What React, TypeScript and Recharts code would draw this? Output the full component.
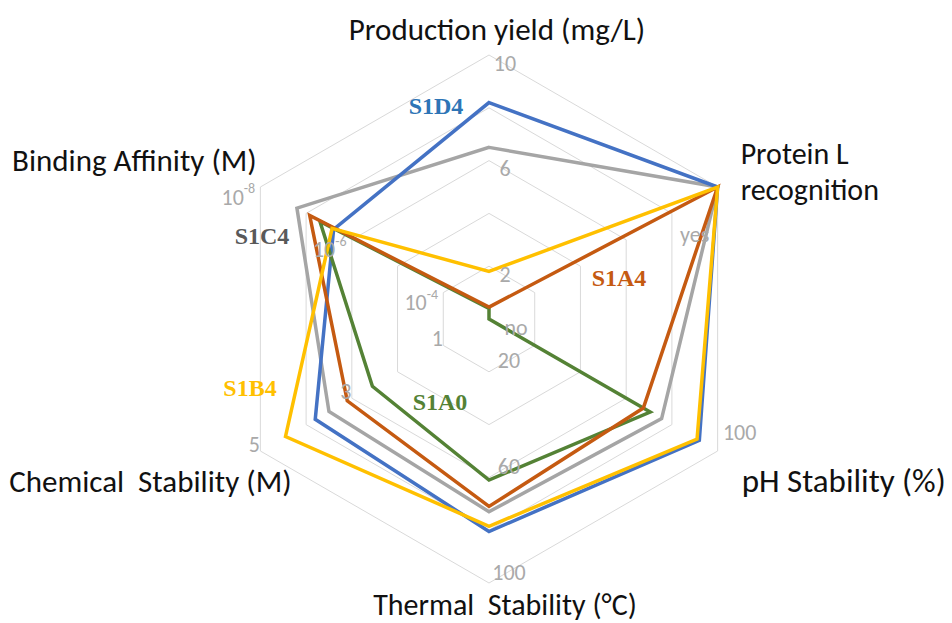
import React from "react";
import { Customized, PolarAngleAxis, PolarGrid, PolarRadiusAxis, Radar, RadarChart } from "recharts";

const axisNames = [
  "Production yield (mg/L)",
  "Protein L recognition",
  "pH Stability (%)",
  "Thermal  Stability (°C)",
  "Chemical  Stability (M)",
  "Binding Affinity (M)",
];

// raw values in axis order: yield (mg/L), Protein L (1 = yes, 0 = no), pH (%), thermal (°C), chemical (M), Kd (M)
const S1D4 = [8.2, 1, 92, 80.5, 3.8, 4.0e-7];
const S1C4 = [6.5, 1, 75.5, 73, 3.5, 6.3e-8];
const S1A4 = [0.45, 1, 67.5, 71, 3.1, 1.2e-7];
const S1B4 = [1.8, 1, 91, 78.5, 4.45, 3.7e-7];
const S1A0 = [0.4, 0, 70.5, 61, 2.55, 2.0e-7];

// scale labels per axis
const yieldTicks = [2, 6, 10];
const proteinTicks = [0, 1];
const phTicks = [100];
const thermalTicks = [20, 60, 100];
const chemicalTicks = [1, 3, 5];
const affinityTicks = [1e-4, 1e-6, 1e-8];

// each axis has its own scale, mapped onto 0..1 of the radius
const toUnit = [
  (v: number) => v / 10,
  (v: number) => v,
  (v: number) => v / 100,
  (v: number) => v / 100,
  (v: number) => v / 5,
  (v: number) => (-Math.log10(v) - 3) / 5,
];

const series = [
  { name: "S1C4", values: S1C4, color: "#A5A5A5", label: "#595959" },
  { name: "S1D4", values: S1D4, color: "#4472C4", label: "#2E75B6" },
  { name: "S1A0", values: S1A0, color: "#548235", label: "#548235" },
  { name: "S1A4", values: S1A4, color: "#C55A11", label: "#C55A11" },
  { name: "S1B4", values: S1B4, color: "#FFC000", label: "#FFC000" },
];

const data = axisNames.map((axis, i) => {
  const row: Record<string, number | string> = { axis };
  series.forEach((s) => {
    row[s.name] = toUnit[i](s.values[i]);
  });
  return row;
});

const CX = 489;
const CY = 319;
const R = 264;
const rings = [0.2, 0.4, 0.6, 0.8, 1].map((f) => f * R);

const labelFont = "Carlito, Lato, 'Open Sans', sans-serif";
const tickColor = "#A9A9A9";

// placement of the axis titles, relative to the outer vertex of each axis
const titleLayout = [
  { dx: 8, dy: -15, anchor: "middle", size: 31 },
  { dx: 23, dy: -23, anchor: "start", size: 30 },
  { dx: 24, dy: 41, anchor: "start", size: 33 },
  { dx: 16, dy: 32, anchor: "middle", size: 30 },
  { dx: -110, dy: 41, anchor: "middle", size: 31 },
  { dx: -126, dy: -16, anchor: "middle", size: 31 },
];

// placement of the scale labels, relative to their ring vertex
const tickLayout = [
  { dx: 16, dy: 8 },
  { dx: 22, dy: 8 },
  { dx: 22, dy: -19 },
  { dx: 20, dy: -11 },
  { dx: -6, dy: -7 },
  { dx: -22, dy: 10 },
];

const seriesLabelPos: Record<string, [number, number]> = {
  S1D4: [436, 106],
  S1C4: [262, 236],
  S1A4: [619, 278],
  S1B4: [250, 388],
  S1A0: [440, 402],
};

function polar(cx: number, cy: number, r: number, deg: number) {
  const a = (-deg * Math.PI) / 180;
  return { x: cx + r * Math.cos(a), y: cy + r * Math.sin(a) };
}

function scaleText(axisIndex: number, v: number): React.ReactNode {
  if (axisIndex === 1) return v === 1 ? "yes" : "no";
  if (axisIndex === 5) {
    const p = Math.round(Math.log10(v));
    return (
      <>
        10
        <tspan dy={-9} fontSize={14}>
          {p}
        </tspan>
      </>
    );
  }
  return String(v);
}

const axisTicks = [yieldTicks, proteinTicks, phTicks, thermalTicks, chemicalTicks, affinityTicks];

function AxisTick(props: any) {
  const { payload, index } = props;
  const cx = props.cx ?? CX;
  const cy = props.cy ?? CY;
  const angle = payload.coordinate;
  const outer = polar(cx, cy, R, angle);
  const t = titleLayout[index];
  const tl = tickLayout[index];
  const name: string = payload.value;
  const lines = index === 1 ? ["Protein L", "recognition"] : [name];

  return (
    <g>
      {lines.map((ln, k) => (
        <text
          key={k}
          x={outer.x + t.dx}
          y={outer.y + t.dy + k * 36}
          textAnchor={t.anchor as any}
          fontFamily={labelFont}
          fontSize={t.size}
          fill="#111"
          style={{ whiteSpace: "pre" }}
        >
          {ln}
        </text>
      ))}
      {axisTicks[index].map((v, k) => {
        let r = toUnit[index](v) * R;
        let dx = tl.dx;
        let dy = tl.dy;
        if (index === 1 && v === 1) {
          dx = -23;
          dy = 47;
        }
        if (index === 1 && v === 0) {
          r = 0;
          dx = 27;
          dy = 8;
        }
        const p = polar(cx, cy, r, angle);
        return (
          <text
            key={k}
            x={p.x + dx}
            y={p.y + dy}
            textAnchor="middle"
            dominantBaseline="central"
            fontFamily={labelFont}
            fontSize={22}
            fill={tickColor}
          >
            {scaleText(index, v)}
          </text>
        );
      })}
    </g>
  );
}

function SeriesLabels() {
  return (
    <g>
      {series.map((s) => {
        const [x, y] = seriesLabelPos[s.name];
        return (
          <text
            key={s.name}
            x={x}
            y={y}
            textAnchor="middle"
            dominantBaseline="central"
            fontFamily="'Liberation Serif', 'Times New Roman', serif"
            fontWeight="bold"
            fontSize={24}
            fill={s.label}
          >
            {s.name}
          </text>
        );
      })}
    </g>
  );
}

export default function App() {
  return (
    <div style={{ position: "absolute", left: 0, top: 0, background: "#fff" }}>
      <RadarChart
        width={952}
        height={623}
        data={data}
        cx={CX}
        cy={CY}
        outerRadius={R}
        margin={{ top: 0, right: 0, bottom: 0, left: 0 }}
      >
        <PolarGrid gridType="polygon" polarRadius={rings} radialLines={false} stroke="#D9D9D9" />
        <PolarRadiusAxis domain={[0, 1]} tick={false} axisLine={false} />
        <PolarAngleAxis dataKey="axis" tick={<AxisTick />} tickLine={false} axisLine={false} />
        {series.map((s) => (
          <Radar
            key={s.name}
            name={s.name}
            dataKey={s.name}
            stroke={s.color}
            strokeWidth={3.5}
            strokeLinejoin="miter"
            fill="none"
            fillOpacity={0}
            dot={false}
            isAnimationActive={false}
          />
        ))}
        <Customized component={SeriesLabels} />
      </RadarChart>
    </div>
  );
}
